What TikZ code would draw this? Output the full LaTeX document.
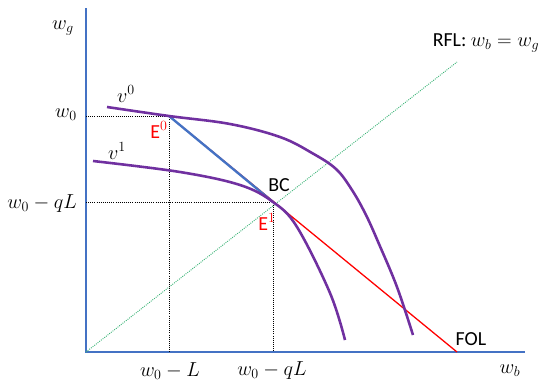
\documentclass[tikz,border=0pt]{standalone}
\usepackage{amsmath, amssymb}
\usepackage{fontspec}
\setsansfont{Carlito}
\usepackage{tikz}
\usetikzlibrary{calc, positioning}
\definecolor{axisblue}{RGB}{68,114,196}
\definecolor{curvepurple}{RGB}{112,48,160}
\definecolor{rflgreen}{RGB}{60,180,120}

\begin{document}
\begin{tikzpicture}[x=0.03cm, y=0.03cm]
    \tikzset{
        axisline/.style={line width=2.2pt, axisblue},
        indiff/.style={line width=2.2pt, curvepurple},
        guide/.style={densely dotted, thick, black},
        lbl/.style={font=\fontsize{16.5}{19}\selectfont},
        tag/.style={font=\sffamily\fontsize{17}{20}\selectfont},
    }
    \useasboundingbox (-86,-30) rectangle (457,352);

    % Trục toạ độ
    \coordinate (O) at (0,0);
    \coordinate (ytop) at (0,344);
    \coordinate (xend) at (439,0);
    \draw[axisline] (ytop) -- (O) -- (xend);
    \node[lbl, anchor=east] (wg) at (-8,324) {$w_g$};
    \node[lbl] (wb) at (424,-19) {$w_b$};

    % Các điểm chính
    \coordinate (E0) at (83,236);
    \coordinate (BC) at (187,150);
    \coordinate (FOL) at (371,0);
    \coordinate (RFLend) at (371,290);

    % Đường RFL
    \draw[rflgreen, densely dotted, thick] (O) -- (RFLend);
    \node[tag] (rfl) at (400,309) {RFL: $w_b = w_g$};

    % Đường gióng
    \draw[guide] (0,236) -- (E0) -- (83,0);
    \draw[guide] (0,150) -- (BC) -- (187,0);
    \node[lbl, anchor=east] (w0) at (-5,237) {$w_0$};
    \node[lbl, anchor=east] (w0qL) at (-5,148) {$w_0 - qL$};
    \node[lbl] (w0L) at (84,-19) {$w_0 - L$};
    \node[lbl] (w0qLb) at (186,-19) {$w_0 - qL$};

    % Đường FOL và đoạn ngân sách
    \draw[red, line width=1.1pt] (E0) -- (FOL);
    \draw[axisblue, line width=2pt] (E0) -- (BC);
    \node[tag] (fol) at (385,13) {FOL};

    % Đường bàng quan
    \draw[indiff] plot[smooth, tension=0.6] coordinates
        {(21,245) (E0) (144,228) (194,215) (226,199) (250,183) (266,162) (280,137) (293,108) (311,65) (327,17)};
    \draw[indiff] plot[smooth, tension=0.6] coordinates
        {(7,191) (94,180) (154,167) (BC) (211,125) (244,59) (259,12)};
    \node[lbl] (v0) at (40,258) {$v^0$};
    \node[lbl] (v1) at (31,201) {$v^1$};

    % Nhãn điểm
    \node[tag, red] (e0) at (73,222) {E$^0$};
    \node[tag, red] (e1) at (181,130) {E$^1$};
    \node[tag] (bc) at (193,167) {BC};
\end{tikzpicture}
\end{document}
